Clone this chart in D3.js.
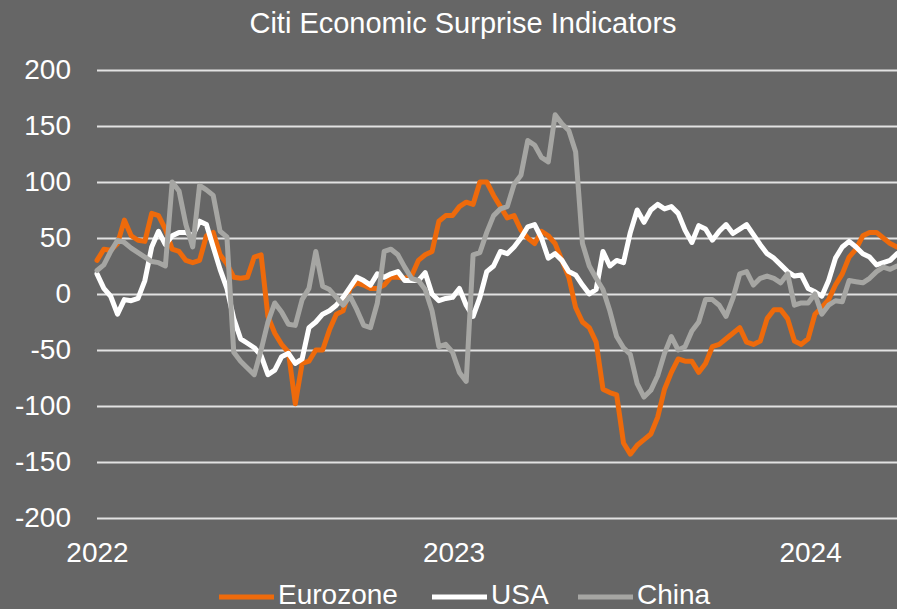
<!DOCTYPE html>
<html lang="en">
<head>
  <meta charset="utf-8">
  <script src="https://d3js.org/d3.v7.min.js"></script>
  <style>
    html, body { margin: 0; padding: 0; background: #666666; }
    svg { display: block; font-family: "Liberation Sans", Arial, sans-serif; }
  </style>
</head>
<body>
  <svg width="897" height="609"></svg>
  <script>
    // weekly observations, Jan 2022 - Mar 2024
    var dates = [
      "2022-01-01","2022-01-08","2022-01-15","2022-01-22","2022-01-29","2022-02-05","2022-02-12","2022-02-19","2022-02-26",
      "2022-03-05","2022-03-12","2022-03-19","2022-03-26","2022-04-02","2022-04-09","2022-04-16","2022-04-23","2022-04-30",
      "2022-05-07","2022-05-14","2022-05-21","2022-05-28","2022-06-04","2022-06-11","2022-06-18","2022-06-25","2022-07-02",
      "2022-07-09","2022-07-16","2022-07-23","2022-07-30","2022-08-06","2022-08-13","2022-08-20","2022-08-27","2022-09-03",
      "2022-09-10","2022-09-17","2022-09-24","2022-10-01","2022-10-08","2022-10-15","2022-10-22","2022-10-29","2022-11-05",
      "2022-11-12","2022-11-19","2022-11-26","2022-12-03","2022-12-10","2022-12-17","2022-12-24","2022-12-31",
      "2023-01-07","2023-01-14","2023-01-21","2023-01-28","2023-02-04","2023-02-11","2023-02-18","2023-02-25","2023-03-04",
      "2023-03-11","2023-03-18","2023-03-25","2023-04-01","2023-04-08","2023-04-15","2023-04-22","2023-04-29","2023-05-06",
      "2023-05-13","2023-05-20","2023-05-27","2023-06-03","2023-06-10","2023-06-17","2023-06-24","2023-07-01","2023-07-08",
      "2023-07-15","2023-07-22","2023-07-29","2023-08-05","2023-08-12","2023-08-19","2023-08-26","2023-09-02","2023-09-09",
      "2023-09-16","2023-09-23","2023-09-30","2023-10-07","2023-10-14","2023-10-21","2023-10-28","2023-11-04","2023-11-11",
      "2023-11-18","2023-11-25","2023-12-02","2023-12-09","2023-12-16","2023-12-23","2023-12-30",
      "2024-01-06","2024-01-13","2024-01-20","2024-01-27","2024-02-03","2024-02-10","2024-02-17","2024-02-24","2024-03-02",
      "2024-03-09","2024-03-16","2024-03-23","2024-03-30"
    ];

    var eurozone = [
      30, 40, 39, 45, 66, 52, 48, 47, 72, 70, 58, 40, 38, 30, 28, 30, 52, 55, 35, 27,
      15, 14, 15, 33, 35, -20, -35, -45, -52, -98, -62, -60, -50, -50, -32, -18, -15, 5, 10, 8,
      5, 5, 8, 15, 15, 14, 16, 30, 35, 38, 65, 70, 70, 78, 82, 80, 100, 100, 88, 78,
      68, 70, 57, 50, 45, 56, 52, 45, 30, 15, -12, -25, -30, -43, -85, -88, -90, -133, -143, -135,
      -130, -125, -110, -85, -70, -58, -60, -60, -70, -62, -47, -45, -40, -35, -30, -43, -45, -42, -22, -14,
      -14, -22, -42, -45, -40, -18, -12, -5, 8, 18, 33, 40, 52, 55, 55, 50, 45, 42
    ];

    var usa = [
      18, 5, -2, -18, -5, -6, -4, 12, 42, 56, 44, 52, 55, 55, 52, 65, 62, 42, 22, 5,
      -22, -40, -44, -48, -55, -72, -68, -56, -53, -62, -58, -30, -25, -18, -15, -10, -3, 6, 15, 12,
      8, 18, 15, 18, 20, 12, 12, 12, 19, 0, -6, -4, -3, 5, -10, -20, -3, 20, 25, 38,
      36, 42, 50, 60, 62, 50, 32, 36, 30, 20, 17, 8, 0, 4, 38, 25, 30, 28, 55, 75,
      64, 75, 80, 76, 78, 72, 57, 46, 61, 58, 48, 56, 62, 54, 58, 62, 53, 44, 36, 32,
      26, 20, 16, 17, 5, 2, -2, 12, 32, 42, 47, 42, 36, 33, 26, 28, 30, 36
    ];

    var china = [
      21, 26, 38, 48, 46, 41, 37, 33, 29, 28, 25, 100, 92, 62, 42, 97, 93, 88, 56, 51,
      -52, -60, -66, -72, -50, -25, -8, -16, -27, -28, -5, 5, 38, 7, 4, -3, -10, -2, -14, -28,
      -30, -8, 38, 40, 35, 24, 14, 12, 4, -15, -47, -45, -52, -70, -78, 35, 37, 55, 70, 76,
      78, 98, 106, 137, 133, 122, 118, 160, 152, 146, 127, 45, 25, 14, 4, -15, -38, -48, -54, -80,
      -92, -86, -73, -53, -38, -50, -47, -33, -25, -5, -5, -10, -20, -4, 18, 20, 8, 14, 16, 14,
      10, 18, -10, -8, -8, 0, -18, -10, -6, -7, 12, 11, 10, 14, 20, 24, 22, 25
    ];

    var seriesNames = ["Eurozone", "USA", "China"];
    var seriesColors = ["#EE6A0B", "#FFFFFF", "#A6A6A3"];
    var yTicks = [-200, -150, -100, -50, 0, 50, 100, 150, 200];
    var yearTicks = ["2022-01-01", "2023-01-01", "2024-01-01"];

    var svg = d3.select("svg");
    var parse = d3.utcParse("%Y-%m-%d");

    var x = d3.scaleUtc()
      .domain([parse("2022-01-01"), parse("2024-03-30")])
      .range([97, 897]);
    var y = d3.scaleLinear().domain([-200, 200]).range([518, 70]);

    svg.append("rect").attr("width", 897).attr("height", 609).attr("fill", "#666666");

    // title
    svg.append("text")
      .attr("x", 463).attr("y", 33)
      .attr("text-anchor", "middle")
      .attr("fill", "#ffffff")
      .style("font-size", "29px")
      .text("Citi Economic Surprise Indicators");

    // y axis + gridlines
    var yAxis = svg.append("g")
      .attr("transform", "translate(97,0)")
      .call(d3.axisLeft(y).tickValues(yTicks).tickSizeInner(-800).tickSizeOuter(0)
        .tickPadding(26).tickFormat(function (d) { return String(d); }));
    yAxis.select(".domain").remove();
    yAxis.selectAll(".tick line").attr("stroke", "#e2e2e2").attr("stroke-width", 2);
    yAxis.selectAll(".tick text").attr("fill", "#ffffff").style("font-size", "28px")
      .attr("font-family", "Liberation Sans, Arial, sans-serif");

    // x axis labels
    var xAxis = svg.append("g")
      .attr("transform", "translate(0,518)")
      .call(d3.axisBottom(x).tickValues(yearTicks.map(parse)).tickSize(0).tickPadding(24)
        .tickFormat(d3.utcFormat("%Y")));
    xAxis.select(".domain").remove();
    xAxis.selectAll(".tick text").attr("fill", "#ffffff").style("font-size", "28px")
      .attr("font-family", "Liberation Sans, Arial, sans-serif");

    // lines
    var line = d3.line()
      .x(function (d) { return x(d.date); })
      .y(function (d) { return y(d.value); });

    [eurozone, usa, china].forEach(function (vals, k) {
      var pts = vals.map(function (v, i) { return { date: parse(dates[i]), value: v }; });
      svg.append("path")
        .datum(pts)
        .attr("d", line)
        .attr("fill", "none")
        .attr("stroke", seriesColors[k])
        .attr("stroke-width", 5)
        .attr("stroke-linejoin", "round")
        .attr("stroke-linecap", "round");
    });

    // legend
    var legendX = [219, 432, 578];
    var legend = svg.append("g");
    seriesNames.forEach(function (name, k) {
      legend.append("line")
        .attr("x1", legendX[k]).attr("x2", legendX[k] + 55)
        .attr("y1", 597).attr("y2", 597)
        .attr("stroke", seriesColors[k])
        .attr("stroke-width", 5);
      legend.append("text")
        .attr("x", legendX[k] + 59).attr("y", 604)
        .attr("fill", "#ffffff")
        .style("font-size", "28px")
        .text(name);
    });
  </script>
</body>
</html>
